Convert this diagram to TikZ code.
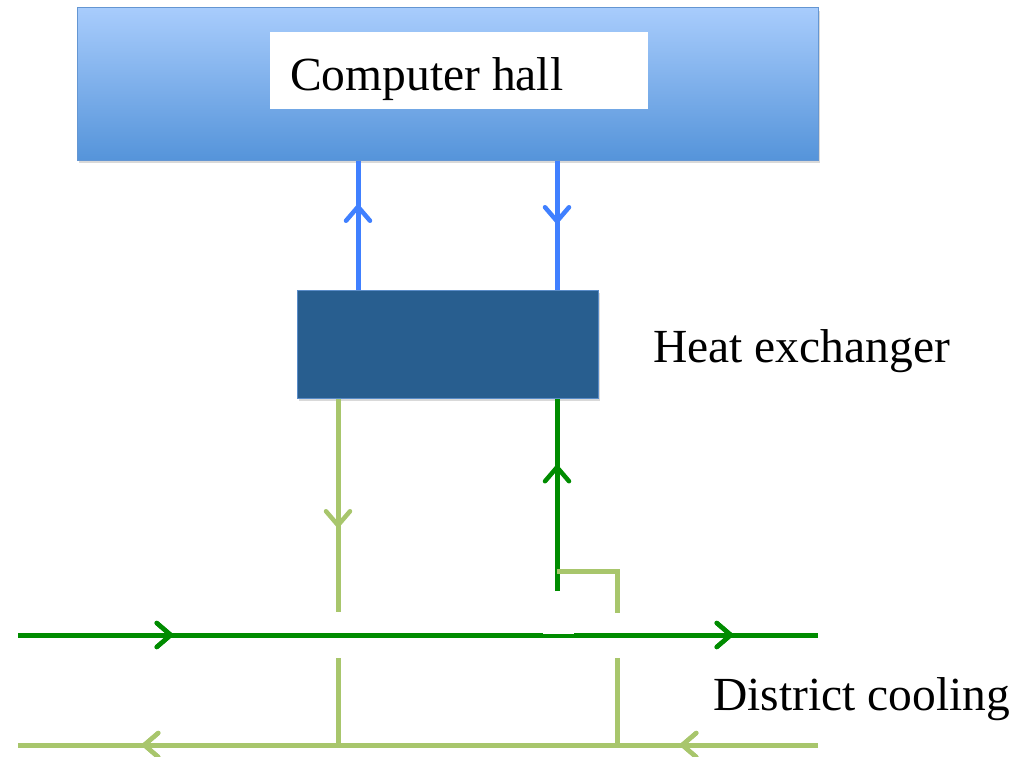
\documentclass[tikz,border=0pt]{standalone}
\usepackage{fontspec}
\setmainfont{Liberation Serif}
\usetikzlibrary{arrows.meta,decorations.markings,shadows}
\definecolor{pipeblue}{RGB}{64,128,255}
\definecolor{darkgreen}{RGB}{0,140,0}
\definecolor{lightgreen}{RGB}{168,198,108}
\definecolor{hxfill}{RGB}{40,94,143}
\definecolor{hxdraw}{RGB}{90,140,200}
\definecolor{halltop}{RGB}{168,204,252}
\definecolor{hallbot}{RGB}{85,148,218}
\definecolor{halldraw}{RGB}{100,150,210}
\begin{document}
\begin{tikzpicture}[x=1pt,y=-1pt,
  pipe/.style={line width=5pt},
  arr/.style={postaction={decorate},decoration={markings,
     mark=at position #1 with {\arrow{Straight Barb[length=14pt,width=24pt,line width=4.5pt,round]}}}},
  boxshadow/.style={drop shadow={shadow xshift=2pt,shadow yshift=-3pt,opacity=.3}},
  lbl/.style={font=\fontsize{47.5}{52}\selectfont,inner sep=0pt,anchor=base west}]
\useasboundingbox (0,0) rectangle (1017,757);
% computer hall
\node[boxshadow,draw=halldraw,line width=1pt,top color=halltop,bottom color=hallbot,
  minimum width=741pt,minimum height=152pt,inner sep=0pt] (hall) at (447.5,84) {};
\node[fill=white,minimum width=378pt,minimum height=77pt,inner sep=0pt] (hallbox) at (459,70.5) {};
\node[lbl] (halltext) at (290,91) {Computer hall};
% heat exchanger
\node[boxshadow,draw=hxdraw,line width=1pt,fill=hxfill,minimum width=301pt,minimum height=108pt,inner sep=0pt] (hx) at (447.5,344) {};
\node[lbl] (hxtext) at (653,362) {Heat exchanger};
\node[lbl] (dctext) at (713,710) {District cooling};
% x positions
\coordinate (xa) at (358,0);
\coordinate (xb) at (557,0);
\coordinate (xc) at (338,0);
\coordinate (xd) at (617,0);
% blue pipes
\draw[pipe,pipeblue,arr=85pt] (hx.north -| xa) -- (hall.south -| xa);
\draw[pipe,pipeblue,arr=63pt] (hall.south -| xb) -- (hx.north -| xb);
% district cooling pipes
\coordinate (s1) at (18,635);
\coordinate (s2) at (818,635);
\coordinate (r1) at (818,745);
\coordinate (r2) at (18,745);
\draw[pipe,darkgreen,arr=155pt,arr=715pt] (s1) -- (s2);
\draw[pipe,lightgreen,arr=138pt,arr=676pt] (r1) -- (r2);
% return from heat exchanger (light green)
\coordinate (c1) at (338,612);
\coordinate (c2) at (338,658);
\draw[pipe,lightgreen,arr=129pt] (hx.south -| xc) -- (c1);
\draw[pipe,lightgreen] (c2) -- (r2 -| c2);
% supply to heat exchanger (dark green)
\coordinate (d1) at (557,591);
\draw[pipe,darkgreen,arr=126pt] (d1) -- (hx.south -| xb);
% bypass light green
\coordinate (e1) at (557,571);
\coordinate (e2) at (617,613);
\coordinate (e3) at (617,658);
\draw[pipe,lightgreen] (e1) -| (e2);
\draw[pipe,lightgreen] (e3) -- (r2 -| e3);
% white gap
\node[fill=white,minimum width=31pt,minimum height=8pt,inner sep=0pt] (gap) at (558.5,630) {};
\end{tikzpicture}
\end{document}
